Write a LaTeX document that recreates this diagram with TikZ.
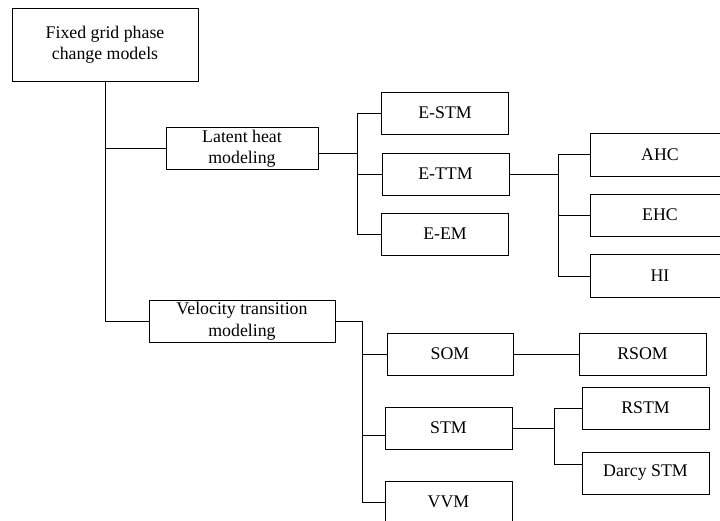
\documentclass[tikz,border=0pt]{standalone}
\usepackage{fontspec}
\setmainfont{Liberation Serif}
\begin{document}
\begin{tikzpicture}[x=1pt,y=-1pt,line width=0.8pt,font=\fontsize{17.8}{21.5}\selectfont]
    \clip (0,0) rectangle (720,520);
    \begin{scope}[minimum height=42pt,minimum width=127pt,inner sep=0pt]
      \tikzstyle{every node}=[draw,align=center]
      \node[minimum width=186pt,minimum height=73pt] (F) at (105,44.5) {Fixed grid phase\\change models};
      \node[minimum width=152pt] (LH)   at (242  ,148.5) {Latent heat\\modeling};
      \node[minimum width=186pt] (VT)   at (242  ,321) {Velocity transition\\modeling};
      \node (ESTM) at (445  ,113) {E-STM};
      \node (ETTM) at (445.5,174) {E-TTM};
      \node (EEM)  at (445  ,234) {E-EM};
      \node[minimum width=140pt,minimum height=43pt] (AHC)  at (660  ,154.5) {AHC};
      \node[minimum width=140pt] (EHC)  at (660  ,215) {EHC};
      \node[minimum width=140pt,minimum height=43pt] (HI)   at (660  ,276) {HI};
      \node[minimum width=126pt] (SOM)  at (450  ,354) {SOM};
      \node (STM)  at (448.5,428) {STM};
      \node (VVM)  at (448.5,502) {VVM};
      \node (RSOM) at (642.5,354) {RSOM};
      \node (RSTM) at (645.5,408) {RSTM};
      \node (DSTM) at (645.5,473) {Darcy STM};
    \end{scope}

    \coordinate (jL) at (357,153);
    \coordinate (jT) at (558,174);
    \coordinate (jV) at (362,321);
    \coordinate (jS) at (554,428);

    \draw (F) |- (VT);
    \draw (F.south |- LH.west) -- (LH.west);

    \draw ([yshift=-4.5pt]LH.east) -- (jL);
    \foreach \n in {ESTM,ETTM,EEM}
      \draw (jL) |- (\n.west);

    \draw (ETTM.east) -- (jT);
    \foreach \n in {AHC,EHC,HI}
      \draw (jT) |- (\n.west);

    \draw (VT.east) -- (jV);
    \draw (jV) |- (SOM.west);
    \draw (jV) |- ([yshift=-7pt]STM.west);
    \draw (jV) |- (VVM.west);

    \draw (SOM) -- (RSOM);
    \draw (STM.east) -- (jS);
    \draw (jS) |- (RSTM.west);
    \draw (jS) |- ([yshift=9pt]DSTM.west);
  \end{tikzpicture}
\end{document}
